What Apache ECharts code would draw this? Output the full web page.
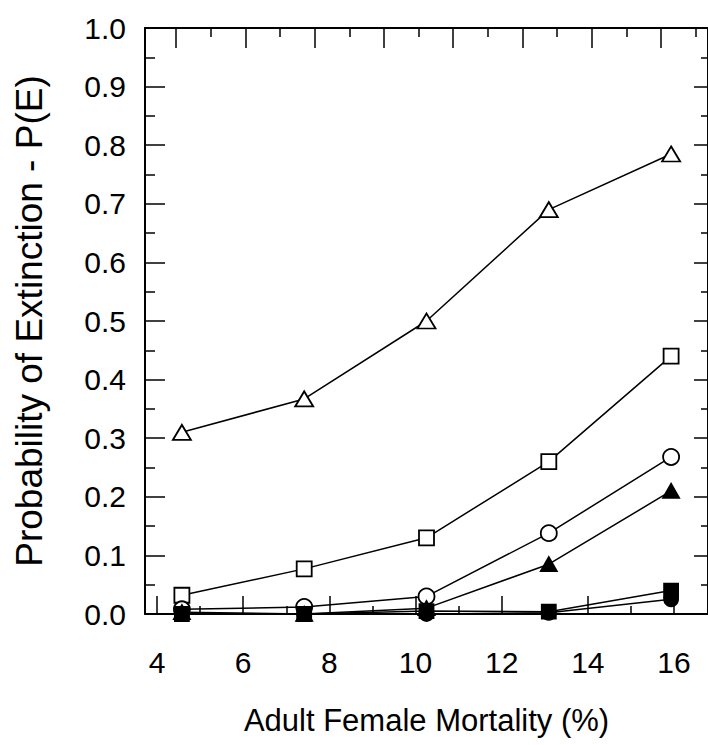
<!DOCTYPE html>
<html>
<head>
<meta charset="utf-8">
<script src="https://cdn.jsdelivr.net/npm/echarts@6/dist/echarts.min.js"></script>
<style>
  html, body { margin: 0; padding: 0; background: #fff; }
  #chart { width: 708px; height: 745px; }
</style>
</head>
<body>
<div id="chart"></div>
<script>
// adult female mortality (%) at which each scenario was run
var mortality = [4, 7, 10, 13, 16];
// P(E) per scenario
var openTriangle = [0.31, 0.367, 0.50, 0.69, 0.785];
var openSquare = [0.032, 0.077, 0.13, 0.26, 0.44];
var openCircle = [0.008, 0.012, 0.03, 0.138, 0.268];
var filledTriangle = [0.003, 0.0, 0.01, 0.085, 0.21];
var filledSquare = [0.0, 0.0, 0.005, 0.004, 0.04];
var filledCircle = [0.0, 0.0, 0.0, 0.002, 0.025];
// axis ticks
var xTickLabels = [4, 6, 8, 10, 12, 14, 16];
var xMinorTicks = [5, 7, 9, 11, 13, 15];
var topMajor = [0, 2, 4, 6, 8, 10, 12, 14];
var topMinor = [1, 3, 5, 7, 9, 11, 13, 15];

(function() {
  var ink = '#000';
  var font = 'Liberation Sans, Arial, Helvetica, sans-serif';
  var chart = echarts.init(document.getElementById('chart'), null, { renderer: 'svg' });

  function pairs(ys) {
    return mortality.map(function(x, i) { return [x, ys[i]]; });
  }

  function line(name, ys, symbol, size, filled) {
    return {
      name: name,
      type: 'line',
      xAxisIndex: 4,
      data: pairs(ys),
      symbol: symbol,
      symbolSize: size,
      showSymbol: true,
      lineStyle: { color: ink, width: 1.5 },
      itemStyle: { color: filled ? ink : '#fff', borderColor: ink, borderWidth: 1.8 },
      emphasis: { disabled: true }
    };
  }

  // label scale (where the printed numbers sit)
  var labMin = 3.72, labMax = 16.79;
  var tickStyle = { color: ink, width: 1.5 };

  chart.setOption({
    animation: false,
    grid: { left: 145, top: 28, right: -2, bottom: 131, containLabel: false },
    xAxis: [
      {
        type: 'value', position: 'bottom', min: labMin, max: labMax,
        name: 'Adult Female Mortality (%)', nameLocation: 'middle', nameGap: 91,
        nameTextStyle: { color: ink, fontSize: 31, fontFamily: font },
        axisLine: { show: true, onZero: false, lineStyle: { color: ink, width: 2 } },
        axisTick: { show: true, inside: true, length: 18, customValues: xTickLabels, lineStyle: tickStyle },
        axisLabel: { show: true, customValues: xTickLabels, color: ink, fontSize: 30, fontFamily: font, margin: 33 },
        splitLine: { show: false }
      },
      {
        type: 'value', position: 'bottom', min: labMin, max: labMax,
        axisLine: { show: false, onZero: false },
        axisTick: { show: true, inside: true, length: 8, customValues: xMinorTicks, lineStyle: tickStyle },
        axisLabel: { show: false },
        splitLine: { show: false }
      },
      {
        type: 'value', position: 'top', min: -0.9, max: 15.36,
        axisLine: { show: true, onZero: false, lineStyle: { color: ink, width: 2 } },
        axisTick: { show: true, inside: true, length: 20, customValues: topMajor, lineStyle: tickStyle },
        axisLabel: { show: false },
        splitLine: { show: false }
      },
      {
        type: 'value', position: 'top', min: -0.9, max: 15.36,
        axisLine: { show: false, onZero: false },
        axisTick: { show: true, inside: true, length: 9, customValues: topMinor, lineStyle: tickStyle },
        axisLabel: { show: false },
        splitLine: { show: false }
      },
      {
        // data scale
        type: 'value', position: 'bottom', min: 3.095, max: 16.905, show: false
      }
    ],
    yAxis: [
      {
        type: 'value', position: 'left', min: 0, max: 1, interval: 0.1,
        name: 'Probability of Extinction - P(E)', nameLocation: 'middle', nameGap: 97,
        nameTextStyle: { color: ink, fontSize: 37, fontFamily: font },
        axisLine: { show: true, onZero: false, lineStyle: { color: ink, width: 2 } },
        axisTick: { show: true, inside: true, length: 20, lineStyle: tickStyle },
        minorTick: { show: true, splitNumber: 2, length: 10, lineStyle: tickStyle },
        axisLabel: { color: ink, fontSize: 30, fontFamily: font, margin: 19, formatter: function(v) { return v.toFixed(1); } },
        splitLine: { show: false }
      },
      {
        type: 'value', position: 'right', min: 0, max: 1, interval: 0.1,
        axisLine: { show: true, onZero: false, lineStyle: { color: ink, width: 2 } },
        axisTick: { show: true, inside: true, length: 14, lineStyle: tickStyle },
        minorTick: { show: true, splitNumber: 2, length: 7, lineStyle: tickStyle },
        axisLabel: { show: false },
        splitLine: { show: false }
      }
    ],
    series: [
      line('open triangle', openTriangle, 'triangle', [18, 15], false),
      line('open square', openSquare, 'rect', 15, false),
      line('open circle', openCircle, 'circle', 16, false),
      line('filled triangle', filledTriangle, 'triangle', [16, 14], true),
      line('filled square', filledSquare, 'rect', 14, true),
      line('filled circle', filledCircle, 'circle', 14, true)
    ]
  });
  window.addEventListener('resize', function() { chart.resize(); });
})();
</script>
</body>
</html>
